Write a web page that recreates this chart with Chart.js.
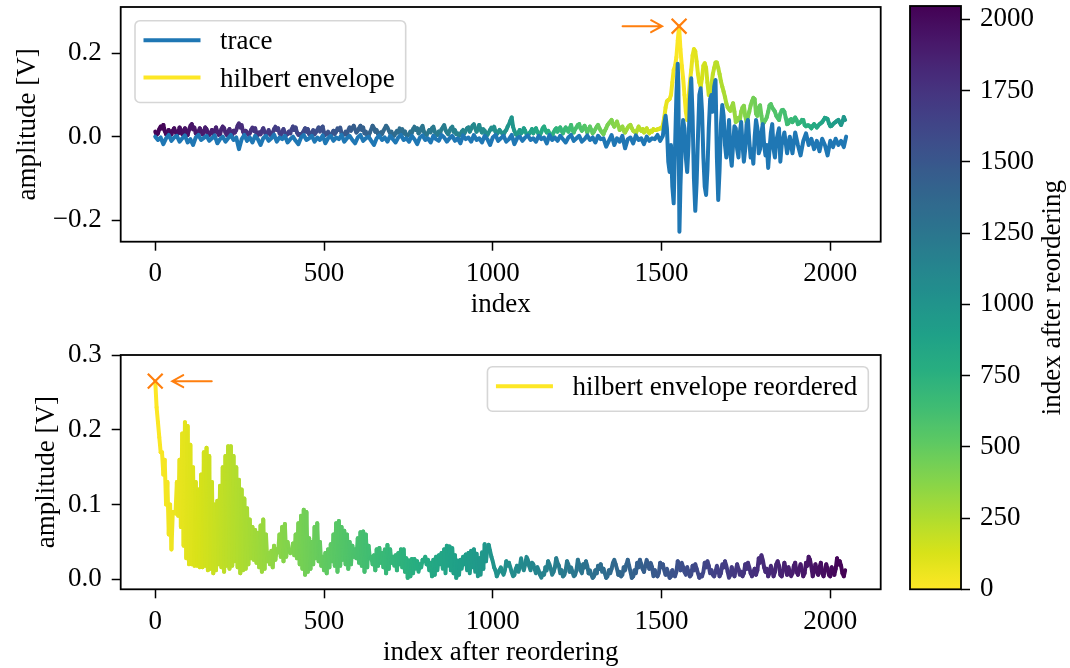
<!DOCTYPE html>
<html>
<head>
<meta charset="utf-8">
<script src="https://cdn.jsdelivr.net/npm/chart.js@4.4.1/dist/chart.umd.min.js"></script>
<style>
  html, body { margin: 0; padding: 0; background: #fff; }
  #wrap { position: relative; width: 1070px; height: 668px; overflow: hidden; }
  canvas { position: absolute; }
</style>
</head>
<body>
<div id="wrap">
  <canvas id="top" width="900" height="335" style="left:0;top:0"></canvas>
  <canvas id="bottom" width="900" height="333" style="left:0;top:335px"></canvas>
  <canvas id="cbar" width="170" height="668" style="left:900px;top:0"></canvas>
</div>
<script>
// hilbert envelope sampled every ENV_STEP samples (index 0 .. 2044)
const ENV_STEP = 4;
const N_SAMPLES = 2048;
const envelope = [
  // 0 .. 1480
  0.012, 0.004, 0.008, 0.018, 0.024, 0.02, 0.028, 0.014, 0.006, 0.01, 0.016, 0.004, 0.006, 0.014, 0.02, 0.012, 0.004, 0.008, 0.022, 0.016,
  0.006, 0.012, 0.02, 0.01, 0.004, 0.016, 0.026, 0.03, 0.018, 0.022, 0.008, 0.004, 0.012, 0.02, 0.014, 0.006, 0.01, 0.022, 0.018, 0.008,
  0.004, 0.01, 0.016, 0.006, 0.014, 0.022, 0.012, 0.004, 0.006, 0.018, 0.024, 0.02, 0.01, 0.004, 0.012, 0.018, 0.008, 0.004, 0.014, 0.01,
  0.016, 0.026, 0.032, 0.022, 0.028, 0.012, 0.006, 0.014, 0.01, 0.004, 0.008, 0.016, 0.022, 0.014, 0.02, 0.008, 0.004, 0.01, 0.006, 0.014,
  0.02, 0.012, 0.004, 0.008, 0.016, 0.006, 0.002, 0.01, 0.018, 0.024, 0.016, 0.02, 0.008, 0.004, 0.012, 0.018, 0.01, 0.004, 0.006, 0.012,
  0.008, 0.018, 0.024, 0.016, 0.022, 0.01, 0.004, 0.006, 0.002, 0.008, 0.014, 0.02, 0.012, 0.018, 0.006, 0.004, 0.01, 0.016, 0.006, 0.01,
  0.016, 0.022, 0.012, 0.02, 0.024, 0.01, 0.004, 0.008, 0.012, 0.004, 0.002, 0.008, 0.014, 0.006, 0.012, 0.02, 0.016, 0.022, 0.008, 0.004,
  0.006, 0.012, 0.004, 0.016, 0.022, 0.014, 0.02, 0.026, 0.018, 0.01, 0.014, 0.02, 0.026, 0.016, 0.022, 0.008, 0.012, 0.004, 0.002, 0.01,
  0.018, 0.026, 0.02, 0.012, 0.016, 0.006, 0.004, 0.01, 0.006, 0.014, 0.02, 0.026, 0.022, 0.014, 0.008, 0.012, 0.004, 0.002, 0.008, 0.014,
  0.01, 0.02, 0.014, 0.018, 0.008, 0.012, 0.004, 0.002, 0.006, 0.012, 0.008, 0.018, 0.024, 0.016, 0.02, 0.008, 0.012, 0.02, 0.026, 0.012,
  0.006, 0.004, 0.01, 0.016, 0.01, 0.02, 0.024, 0.012, 0.006, 0.004, 0.012, 0.008, 0.018, 0.022, 0.028, 0.016, 0.01, 0.006, 0.014, 0.02,
  0.024, 0.012, 0.016, 0.006, 0.008, 0.002, 0.006, 0.012, 0.016, 0.008, 0.014, 0.02, 0.022, 0.012, 0.018, 0.026, 0.03, 0.02, 0.012, 0.018,
  0.028, 0.016, 0.01, 0.018, 0.014, 0.006, 0.004, 0.01, 0.016, 0.022, 0.018, 0.024, 0.012, 0.006, 0.01, 0.016, 0.012, 0.008, 0.004, 0.012,
  0.016, 0.024, 0.03, 0.038, 0.046, 0.024, 0.014, 0.006, 0.004, 0.01, 0.016, 0.008, 0.012, 0.02, 0.014, 0.006, 0.002, 0.008, 0.012, 0.018,
  0.008, 0.014, 0.02, 0.012, 0.006, 0.004, 0.012, 0.02, 0.024, 0.016, 0.01, 0.014, 0.008, 0.004, 0.002, 0.01, 0.016, 0.02, 0.012, 0.018,
  0.022, 0.014, 0.008, 0.016, 0.022, 0.018, 0.012, 0.02, 0.028, 0.016, 0.01, 0.018, 0.022, 0.028, 0.03, 0.02, 0.014, 0.02, 0.026, 0.018,
  0.01, 0.018, 0.024, 0.016, 0.008, 0.012, 0.018, 0.024, 0.028, 0.02, 0.014, 0.01, 0.006, 0.014, 0.02, 0.028, 0.032, 0.036, 0.04, 0.03,
  0.024, 0.03, 0.036, 0.026, 0.016, 0.02, 0.024, 0.014, 0.01, 0.016, 0.022, 0.026, 0.028, 0.02, 0.014, 0.012, 0.008, 0.016, 0.024, 0.018,
  0.014, 0.018, 0.01, 0.016, 0.02, 0.012, 0.008, 0.014, 0.012, 0.018, 0.016,
  // 1484 .. 1552 (rise to the maximum)
  0.016, 0.018, 0.018, 0.02, 0.02, 0.028, 0.045, 0.07, 0.085, 0.088, 0.09, 0.1, 0.13, 0.16, 0.17, 0.19, 0.23, 0.265,
  // 1556 .. 2044
  0.21, 0.17, 0.14, 0.1, 0.06, 0.04, 0.09, 0.13, 0.16, 0.195,
  0.21, 0.205, 0.18, 0.15, 0.13, 0.12, 0.14, 0.17, 0.176, 0.165,
  0.13, 0.1, 0.105, 0.125, 0.15, 0.165, 0.178, 0.178, 0.165, 0.15,
  0.133, 0.12, 0.108, 0.095, 0.08, 0.07, 0.066, 0.062, 0.072, 0.08,
  0.06, 0.035, 0.038, 0.045, 0.04, 0.06, 0.07, 0.074, 0.05, 0.035,
  0.048, 0.06, 0.075, 0.085, 0.093, 0.09, 0.055, 0.05, 0.07, 0.075,
  0.05, 0.03, 0.035, 0.04, 0.047, 0.06, 0.075, 0.078, 0.07, 0.065,
  0.06, 0.05, 0.045, 0.04, 0.055, 0.063, 0.064, 0.06, 0.045, 0.03,
  0.032, 0.04, 0.042, 0.035, 0.04, 0.046, 0.04, 0.03, 0.032, 0.035,
  0.04, 0.04, 0.028, 0.025, 0.027, 0.027, 0.024, 0.02, 0.026, 0.03,
  0.026, 0.022, 0.026, 0.03, 0.032, 0.035, 0.04, 0.045, 0.044, 0.042,
  0.032, 0.025, 0.026, 0.03, 0.033, 0.035, 0.038, 0.04, 0.034, 0.028,
  0.036, 0.047, 0.04
];

// raw trace: quiet part every 8 samples (0 .. 1472), then the burst
const TRACE_STEP = 8;
const traceQuiet = [
  0.0, -0.008, -0.002, -0.018, -0.004, 0.004, -0.01, -0.002, 0.002, -0.012,
  -0.004, 0.003, -0.014, -0.006, -0.02, -0.002, 0.004, -0.008, -0.003, 0.002,
  -0.01, -0.004, 0.003, -0.016, -0.006, 0.0, -0.012, -0.004, 0.004, -0.008,
  -0.002, -0.03, -0.006, 0.004, -0.01, -0.002, -0.014, 0.002, -0.006, -0.02,
  -0.004, 0.002, -0.01, -0.004, 0.005, -0.012, -0.002, -0.006, 0.002, -0.014,
  -0.006, 0.0, -0.01, -0.018, -0.002, 0.004, -0.008, -0.004, 0.002, -0.012,
  -0.002, -0.008, 0.003, -0.016, -0.004, 0.002, -0.01, -0.002, -0.006, 0.004,
  -0.012, -0.004, 0.002, -0.008, -0.016, -0.002, 0.004, -0.01, -0.004, 0.0,
  -0.01, -0.02, -0.004, 0.003, -0.008, -0.002, -0.012, 0.002, -0.006, -0.014,
  -0.002, 0.004, -0.008, -0.004, -0.012, 0.002, -0.006, -0.018, -0.002, 0.003,
  -0.008, -0.004, -0.014, 0.002, -0.006, -0.01, 0.004, -0.002, -0.012, -0.004,
  0.002, -0.01, -0.004, -0.016, 0.003, -0.006, -0.002, -0.012, 0.004, -0.008,
  -0.004, -0.014, 0.002, -0.006, -0.02, -0.002, 0.004, -0.01, -0.004, 0.002,
  -0.012, -0.006, 0.004, -0.018, -0.004, 0.0, -0.01, -0.002, 0.003, -0.008,
  -0.004, -0.012, 0.002, -0.006, -0.002, -0.016, 0.004, -0.008, -0.002, -0.01,
  0.002, -0.006, -0.014, -0.002, 0.004, -0.01, -0.004, 0.002, -0.012, -0.006,
  0.003, -0.008, -0.002, -0.014, 0.002, -0.006, -0.004, -0.024, -0.01, 0.004,
  -0.02, -0.004, -0.012, 0.002, -0.028, -0.006, -0.002, -0.016, 0.003, -0.008,
  -0.004, -0.018, 0.0, -0.01, -0.004
];
const traceBurstIdx = [
  1480, 1488, 1496, 1504, 1508, 1512, 1516, 1520, 1524, 1528, 1532, 1536, 1540, 1544, 1548,
  1550, 1553, 1556, 1560, 1564, 1568, 1572, 1576, 1580, 1584, 1588, 1592, 1596, 1600, 1604,
  1608, 1612, 1616, 1620, 1624, 1628, 1632, 1636, 1640, 1644, 1648, 1652, 1656, 1660, 1664,
  1668, 1672, 1676, 1680, 1684, 1688, 1692, 1696, 1700, 1704, 1708, 1712, 1716, 1720, 1724,
  1728, 1732, 1736, 1740, 1744, 1748, 1752, 1756, 1760, 1764, 1768, 1772, 1776, 1780, 1784,
  1788, 1792, 1796, 1800, 1804, 1808, 1812, 1816, 1820, 1824, 1828, 1832, 1836, 1840, 1848,
  1852, 1856, 1864, 1872, 1880, 1888, 1896, 1904, 1912, 1920, 1928, 1936, 1944, 1952, 1960,
  1968, 1976, 1984, 1992, 2000, 2008, 2016, 2024, 2032, 2040, 2047
];
const traceBurstAmp = [
  -0.006, 0.004, -0.01, 0.002, 0.03, 0.05, 0.02, -0.06, -0.085, -0.02, -0.12, -0.16, -0.03, 0.1, 0.175,
  0.12, -0.228, -0.12, -0.02, 0.04, 0.02, -0.05, -0.085, -0.02, 0.09, 0.14, 0.05, -0.1, -0.178, -0.11,
  0.0, 0.1, 0.116, 0.06, -0.05, -0.12, -0.14, -0.08, 0.02, 0.09, 0.1, 0.06, 0.12, 0.136, -0.05,
  -0.152, -0.08, 0.03, 0.076, 0.05, -0.02, -0.05, -0.01, 0.04, -0.04, -0.07, -0.02, 0.025, 0.02, -0.03,
  -0.05, 0.01, 0.035, -0.02, -0.06, -0.03, 0.03, 0.04, -0.01, -0.05, -0.03, -0.065, 0.0, 0.04, 0.02,
  -0.04, -0.03, 0.01, 0.03, -0.02, -0.045, -0.02, -0.075, -0.03, 0.01, 0.03, -0.03, -0.05, -0.01, 0.02,
  -0.06, -0.02, 0.01, -0.04, 0.0, -0.04, 0.01, -0.02, -0.045, -0.01, 0.008, -0.02, -0.005, -0.03, -0.01,
  -0.035, -0.005, -0.02, -0.045, -0.01, -0.025, -0.005, -0.02, -0.01, -0.025, 0.0
];

const xTicks = [0, 500, 1000, 1500, 2000];
const yTicksTop = [-0.2, 0.0, 0.2];
const yTicksBottom = [0.0, 0.1, 0.2, 0.3];
const cbarTicks = [0, 250, 500, 750, 1000, 1250, 1500, 1750, 2000];

const FONT_FAMILY = "'Liberation Serif', 'Times New Roman', serif";
const FONT_SIZE = 27;
const LINE_W = 4;
const ORANGE = '#ff7f0e';
const BLUE = '#1f77b4';

Chart.defaults.font.family = FONT_FAMILY;
Chart.defaults.font.size = FONT_SIZE;
Chart.defaults.color = '#000';

// viridis, 17 stops
const VIRIDIS = ['#440154', '#48186a', '#472d7b', '#424086', '#3b528b', '#33638d', '#2c728e', '#26828e',
  '#21918c', '#1fa088', '#28ae80', '#3fbc73', '#5ec962', '#84d44b', '#addc30', '#d8e219', '#fde725'];
const hexRgb = h => [1, 3, 5].map(i => parseInt(h.slice(i, i + 2), 16));
const VIR_RGB = VIRIDIS.map(hexRgb);
function viridis(t) {
  t = Math.min(1, Math.max(0, t));
  const f = t * (VIR_RGB.length - 1);
  const i = Math.min(VIR_RGB.length - 2, Math.floor(f));
  const u = f - i;
  const c = VIR_RGB[i].map((v, k) => Math.round(v + (VIR_RGB[i + 1][k] - v) * u));
  return `rgb(${c[0]},${c[1]},${c[2]})`;
}
// reversed map: 0 -> yellow, last index -> purple
const cmap = r => viridis(1 - r / (N_SAMPLES - 1));

// reorder the envelope outwards from its maximum, alternating left/right
const peak = envelope.indexOf(Math.max(...envelope));
const order = [peak];
for (let d = 1; order.length < envelope.length; d++) {
  if (peak - d >= 0) order.push(peak - d);
  if (peak + d < envelope.length) order.push(peak + d);
}
const rankOf = [];
order.forEach((k, r) => { rankOf[k] = r * ENV_STEP; });

const tracePts = traceQuiet.map((v, i) => ({ x: i * TRACE_STEP, y: v }))
  .concat(traceBurstIdx.map((x, i) => ({ x, y: traceBurstAmp[i] })));
const envPts = envelope.map((v, i) => ({ x: i * ENV_STEP, y: v }));
const reorderedPts = order.map((k, r) => ({ x: r * ENV_STEP, y: envelope[k] }));

// black box around the plotting area
const frame = {
  id: 'frame',
  afterDatasetsDraw(chart) {
    const { ctx, chartArea: a } = chart;
    ctx.save();
    ctx.strokeStyle = '#000';
    ctx.lineWidth = 1.8;
    ctx.strokeRect(a.left, a.top, a.right - a.left, a.bottom - a.top);
    ctx.restore();
  }
};

// "->" arrow pointing at the marker dataset
const peakArrow = {
  id: 'peakArrow',
  afterDatasetsDraw(chart, args, opts) {
    if (!opts || !opts.side) return;
    const pt = chart.getDatasetMeta(opts.dataset).data[0];
    const { ctx } = chart;
    const s = opts.side;
    const tail = pt.x + s * 56.5, head = pt.x + s * 17;
    ctx.save();
    ctx.strokeStyle = ORANGE;
    ctx.lineWidth = 2;
    ctx.lineCap = 'round';
    ctx.beginPath();
    ctx.moveTo(tail, pt.y);
    ctx.lineTo(head, pt.y);
    ctx.moveTo(head + s * 11, pt.y - 6);
    ctx.lineTo(head, pt.y);
    ctx.lineTo(head + s * 11, pt.y + 6);
    ctx.stroke();
    ctx.restore();
  }
};

// rounded legend box in matplotlib style
const boxLegend = {
  id: 'boxLegend',
  afterDraw(chart, args, opts) {
    if (!opts || !opts.items) return;
    const { ctx, chartArea: a } = chart;
    ctx.save();
    ctx.font = `${FONT_SIZE}px ${FONT_FAMILY}`;
    const textW = Math.max(...opts.items.map(it => ctx.measureText(it.text).width));
    const w = 85 + textW + 11;
    const h = 19.5 + 37.3 * (opts.items.length - 1) + 25;
    const x = opts.align === 'right' ? a.right - opts.dx - w : a.left + opts.dx;
    const y = a.top + opts.dy;
    ctx.beginPath();
    ctx.roundRect(x, y, w, h, 5);
    ctx.fillStyle = 'rgba(255,255,255,0.8)';
    ctx.fill();
    ctx.strokeStyle = 'rgba(204,204,204,0.8)';
    ctx.lineWidth = 1.6;
    ctx.stroke();
    opts.items.forEach((it, i) => {
      const ry = y + 19.5 + 37.3 * i;
      ctx.strokeStyle = it.color;
      ctx.lineWidth = LINE_W;
      ctx.beginPath();
      ctx.moveTo(x + 8.5, ry);
      ctx.lineTo(x + 65.5, ry);
      ctx.stroke();
      ctx.fillStyle = '#000';
      ctx.textBaseline = 'alphabetic';
      ctx.fillText(it.text, x + 85, ry + 9);
    });
    ctx.restore();
  }
};

const fmtY = v => v.toFixed(1).replace('-', '\u2212');
const tickGrid = { drawOnChartArea: false, tickLength: 9, tickWidth: 1.5, tickColor: '#000', color: '#000' };

function xScale(title, axisHeight, titlePad) {
  return {
    type: 'linear', min: -102.35, max: 2149.35,
    afterBuildTicks: s => { s.ticks = xTicks.map(v => ({ value: v })); },
    afterFit: s => { s.height = axisHeight; s.paddingLeft = 0; s.paddingRight = 0; },
    ticks: { autoSkip: false, maxRotation: 0, padding: 7, callback: v => String(v) },
    grid: tickGrid,
    border: { display: false },
    title: { display: true, text: title, font: { size: FONT_SIZE, lineHeight: 1 }, padding: { top: 0, bottom: titlePad } }
  };
}

function yScale(ticks, min, max, titlePad) {
  return {
    type: 'linear', min, max,
    afterBuildTicks: s => { s.ticks = ticks.map(v => ({ value: v })); },
    afterFit: s => { s.width = 120.7; s.paddingTop = 0; s.paddingBottom = 0; },
    ticks: { autoSkip: false, padding: 10, callback: fmtY },
    grid: tickGrid,
    border: { display: false },
    title: { display: true, text: 'amplitude [V]', font: { size: FONT_SIZE, lineHeight: 1 }, padding: { top: titlePad, bottom: 0 } }
  };
}

const baseOpts = {
  responsive: false,
  animation: false,
  events: [],
  elements: { point: { radius: 0 }, line: { tension: 0, borderJoinStyle: 'round', borderCapStyle: 'round' } }
};

new Chart(document.getElementById('top'), {
  type: 'line',
  data: {
    datasets: [
      { label: 'trace', data: tracePts, borderColor: BLUE, borderWidth: LINE_W, order: 1 },
      {
        label: 'hilbert envelope', data: envPts, borderColor: cmap(0), borderWidth: LINE_W, order: 2,
        segment: { borderColor: c => cmap(rankOf[c.p0DataIndex]) }
      },
      {
        label: 'peak', data: [{ x: peak * ENV_STEP, y: envelope[peak] }], showLine: false, order: 0,
        pointStyle: 'crossRot', pointRadius: 10.5, borderColor: ORANGE, borderWidth: 2.2
      }
    ]
  },
  options: {
    ...baseOpts,
    layout: { autoPadding: false, padding: { top: 7, right: 19.3, left: 0, bottom: 0 } },
    plugins: {
      legend: { display: false }, tooltip: { enabled: false },
      peakArrow: { dataset: 2, side: -1 },
      boxLegend: {
        align: 'left', dx: 14.3, dy: 13.7,
        items: [{ text: 'trace', color: BLUE }, { text: 'hilbert envelope', color: cmap(0) }]
      }
    },
    scales: {
      x: xScale('index', 93.3, 16.5),
      y: yScale(yTicksTop, -0.252, 0.311, 14.5)
    }
  },
  plugins: [frame, peakArrow, boxLegend]
});

new Chart(document.getElementById('bottom'), {
  type: 'line',
  data: {
    datasets: [
      {
        label: 'hilbert envelope reordered', data: reorderedPts, borderColor: cmap(0), borderWidth: LINE_W, order: 1,
        segment: { borderColor: c => cmap(c.p0DataIndex * ENV_STEP) }
      },
      {
        label: 'peak', data: [reorderedPts[0]], showLine: false, order: 0,
        pointStyle: 'crossRot', pointRadius: 10.5, borderColor: ORANGE, borderWidth: 2.2
      }
    ]
  },
  options: {
    ...baseOpts,
    layout: { autoPadding: false, padding: { top: 20, right: 19.3, left: 0, bottom: 0 } },
    plugins: {
      legend: { display: false }, tooltip: { enabled: false },
      peakArrow: { dataset: 1, side: 1 },
      boxLegend: {
        align: 'right', dx: 12.4, dy: 11.7,
        items: [{ text: 'hilbert envelope reordered', color: cmap(0) }]
      }
    },
    scales: {
      x: xScale('index after reordering', 78.7, 1.5),
      y: yScale(yTicksBottom, -0.0134, 0.3, 33.5)
    }
  },
  plugins: [frame, peakArrow, boxLegend]
});

// colour bar
const cbarLabel = {
  id: 'cbarLabel',
  afterDraw(chart) {
    const { ctx, chartArea: a } = chart;
    ctx.save();
    ctx.translate(153, (a.top + a.bottom) / 2);
    ctx.rotate(-Math.PI / 2);
    ctx.font = `${FONT_SIZE}px ${FONT_FAMILY}`;
    ctx.fillStyle = '#000';
    ctx.textAlign = 'center';
    ctx.textBaseline = 'middle';
    ctx.fillText('index after reordering', 0, 0);
    ctx.restore();
  }
};

function cbarGradient(chart) {
  const a = chart.chartArea;
  if (!a) return cmap(0);
  const g = chart.ctx.createLinearGradient(0, a.bottom, 0, a.top);
  for (let i = 0; i <= 64; i++) g.addColorStop(i / 64, cmap(i / 64 * (N_SAMPLES - 1)));
  return g;
}

new Chart(document.getElementById('cbar'), {
  type: 'bar',
  data: {
    labels: [''],
    datasets: [{
      data: [[0, N_SAMPLES - 1]], backgroundColor: c => cbarGradient(c.chart),
      barPercentage: 1, categoryPercentage: 1, borderWidth: 0
    }]
  },
  options: {
    ...baseOpts,
    layout: { autoPadding: false, padding: { top: 6, right: 0, left: 10, bottom: 78.7 } },
    plugins: { legend: { display: false }, tooltip: { enabled: false } },
    scales: {
      x: { display: false },
      y: {
        type: 'linear', position: 'right', min: 0, max: N_SAMPLES - 1,
        afterBuildTicks: s => { s.ticks = cbarTicks.map(v => ({ value: v })); },
        afterFit: s => { s.width = 109; s.paddingTop = 0; s.paddingBottom = 0; },
        ticks: { autoSkip: false, padding: 10, callback: v => String(v) },
        grid: tickGrid,
        border: { display: false }
      }
    }
  },
  plugins: [frame, cbarLabel]
});
</script>
</body>
</html>
